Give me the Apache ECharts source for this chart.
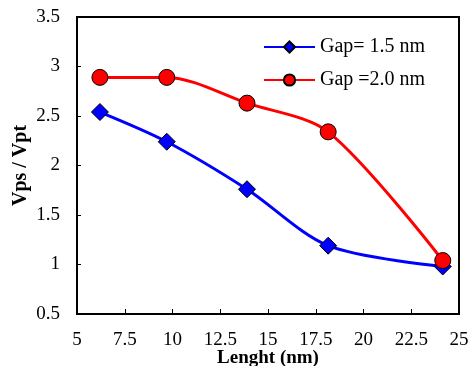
<!DOCTYPE html>
<html><head><meta charset="utf-8">
<script src="https://cdn.jsdelivr.net/npm/echarts@6/dist/echarts.min.js"></script>
<style>html,body{margin:0;padding:0;background:#fff}#c{width:469px;height:366px}</style>
</head><body><div id="c"></div>
<script>
const lengths = [6.2, 9.7, 13.9, 18.15, 24.15];
const gap15 = [2.54, 2.24, 1.76, 1.19, 0.98];
const gap20 = [2.89, 2.89, 2.63, 2.34, 1.04];
const seriesNames = ['Gap= 1.5 nm', 'Gap =2.0 nm'];
const xTitle = 'Lenght (nm)';
const yTitle = 'Vps / Vpt';

const font = 'Liberation Serif, Times New Roman, serif';
const chart = echarts.init(document.getElementById('c'));
chart.setOption({
  animation: false,
  grid: {left: 77, top: 17, right: 10, bottom: 52, containLabel: false, outerBoundsMode: 'none'},
  legend: {
    orient: 'vertical', left: 258, top: 32, itemWidth: 51, itemHeight: 14, itemGap: 13,
    textStyle: {fontFamily: font, fontSize: 20, color: '#000'},
    data: seriesNames
  },
  xAxis: {
    type: 'value', min: 5, max: 25, interval: 2.5,
    name: xTitle, nameLocation: 'middle', nameGap: 35, nameMoveOverlap: false,
    nameTextStyle: {fontFamily: font, fontSize: 19, fontWeight: 'bold', color: '#000'},
    axisLine: {lineStyle: {color: '#000', width: 2}},
    axisTick: {inside: true, length: 5, lineStyle: {color: '#000'}},
    axisLabel: {fontFamily: font, fontSize: 19, color: '#000', margin: 17, hideOverlap: false},
    splitLine: {show: false}
  },
  yAxis: {
    type: 'value', min: 0.5, max: 3.5, interval: 0.5,
    name: yTitle, nameLocation: 'middle', nameGap: 46, nameMoveOverlap: false,
    nameTextStyle: {fontFamily: font, fontSize: 20, fontWeight: 'bold', color: '#000'},
    axisLine: {lineStyle: {color: '#000', width: 2}},
    axisTick: {inside: true, length: 4, lineStyle: {color: '#000'}},
    axisLabel: {fontFamily: font, fontSize: 19, color: '#000', margin: 17},
    splitLine: {show: false}
  },
  series: [
    {name: seriesNames[0], type: 'line', smooth: 0.3,
     data: lengths.map((x, i) => [x, gap15[i]]),
     symbol: 'diamond', symbolSize: 17,
     lineStyle: {color: '#0000ff', width: 3},
     itemStyle: {color: '#0000ff', borderColor: '#000', borderWidth: 1}},
    {name: seriesNames[1], type: 'line', smooth: 0.3,
     data: lengths.map((x, i) => [x, gap20[i]]),
     symbol: 'circle', symbolSize: 16,
     lineStyle: {color: '#ff0000', width: 3},
     itemStyle: {color: '#ff0000', borderColor: '#000', borderWidth: 1}}
  ],
  graphic: [{type: 'rect', shape: {x: 77, y: 17, width: 382, height: 297}, style: {fill: 'none', stroke: '#000', lineWidth: 2}, silent: true}]
});
</script></body></html>
